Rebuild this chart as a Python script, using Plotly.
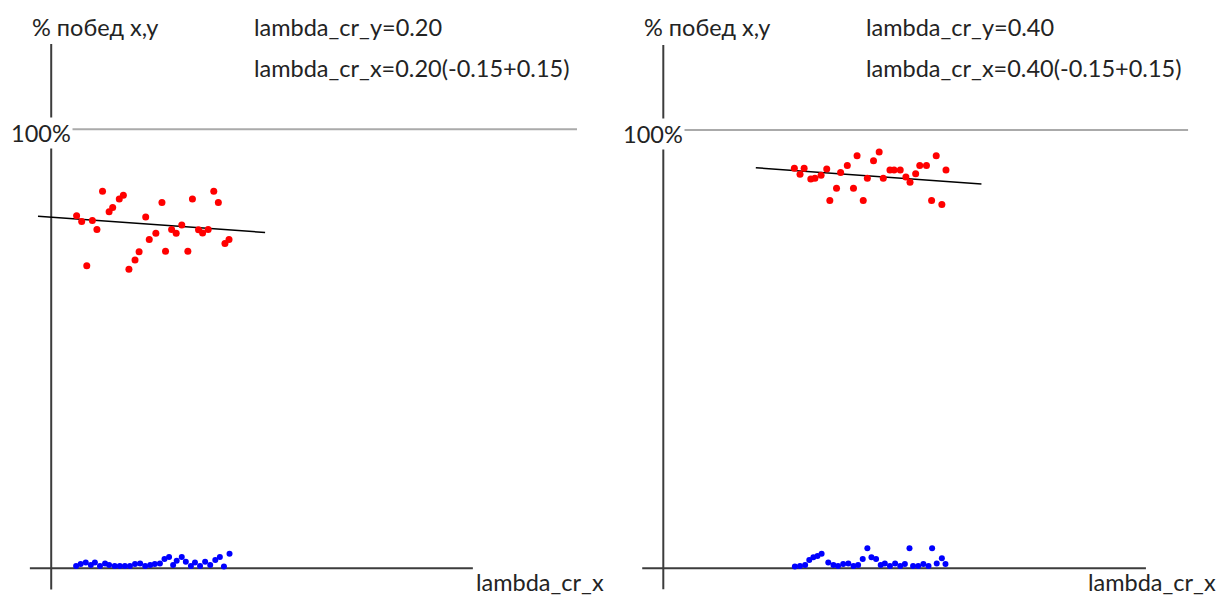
import plotly.graph_objects as go

# ---- left panel: lambda_cr_y = 0.20 ----
left_red_x = [0.050, 0.060, 0.070, 0.081, 0.090, 0.101, 0.114, 0.121, 0.134, 0.142,
              0.153, 0.165, 0.173, 0.186, 0.193, 0.206, 0.218, 0.225, 0.237, 0.246,
              0.257, 0.269, 0.278, 0.290, 0.298, 0.309, 0.320, 0.329, 0.342, 0.350]
left_red_y = [80.3, 79.0, 68.9, 79.2, 77.2, 85.9, 81.2, 82.2, 84.1, 85.0,
              68.1, 70.2, 72.1, 80.0, 74.9, 76.3, 83.3, 72.2, 77.2, 76.3,
              78.2, 72.2, 84.1, 77.1, 76.4, 77.2, 85.9, 83.3, 74.0, 74.9]
left_blue_x = [0.049, 0.058, 0.068, 0.078, 0.086, 0.096, 0.106, 0.114, 0.125, 0.135,
               0.145, 0.155, 0.165, 0.175, 0.185, 0.195, 0.204, 0.214, 0.223, 0.232,
               0.240, 0.247, 0.257, 0.265, 0.275, 0.283, 0.293, 0.303, 0.313, 0.323,
               0.332, 0.340, 0.351]
left_blue_y = [0.5, 1.0, 1.3, 0.75, 1.3, 0.5, 1.1, 0.75, 0.5, 0.5,
               0.5, 0.5, 1.0, 1.1, 0.5, 0.75, 1.0, 1.1, 2.1, 2.6,
               0.75, 1.7, 2.6, 1.5, 0.5, 1.3, 0.5, 1.5, 0.75, 1.9,
               2.6, 0.4, 3.3]
left_trend_x = [-0.026, 0.421]
left_trend_y = [80.2, 76.5]

# ---- right panel: lambda_cr_y = 0.40 ----
right_red_x = [0.255, 0.266, 0.274, 0.287, 0.295, 0.307, 0.318, 0.324, 0.337, 0.345,
               0.358, 0.370, 0.377, 0.389, 0.397, 0.409, 0.420, 0.428, 0.441, 0.449,
               0.461, 0.472, 0.480, 0.491, 0.499, 0.512, 0.522, 0.531, 0.542, 0.550]
right_red_y = [91.3, 89.9, 91.3, 88.8, 89.0, 89.7, 91.1, 83.9, 86.7, 90.3,
               91.9, 86.7, 94.1, 83.9, 89.0, 93.0, 95.0, 89.0, 90.9, 90.9,
               90.9, 89.3, 88.1, 90.0, 91.9, 91.9, 83.9, 94.1, 83.0, 90.9]
right_blue_x = [0.256, 0.266, 0.276, 0.284, 0.292, 0.300, 0.308, 0.321, 0.331, 0.340,
                0.350, 0.360, 0.370, 0.379, 0.388, 0.397, 0.405, 0.414, 0.423, 0.431,
                0.441, 0.451, 0.461, 0.470, 0.479, 0.486, 0.496, 0.506, 0.516, 0.523,
                0.532, 0.542, 0.549]
right_blue_y = [0.4, 0.5, 0.75, 1.9, 2.5, 2.8, 3.3, 1.3, 0.75, 0.5,
                1.0, 1.1, 0.5, 0.75, 2.1, 4.6, 2.5, 2.1, 0.75, 1.1,
                0.5, 1.1, 0.5, 1.0, 4.6, 0.5, 0.5, 1.0, 0.5, 4.6,
                1.1, 2.3, 1.0]
right_trend_x = [0.180, 0.619]
right_trend_y = [91.4, 87.7]

panel_titles = ["lambda_cr_y=0.20", "lambda_cr_y=0.40"]
panel_subtitles = ["lambda_cr_x=0.20(-0.15+0.15)", "lambda_cr_x=0.40(-0.15+0.15)"]
y_label = "% побед x,y"
x_label = "lambda_cr_x"
full_label = "100%"

RED = "rgb(255,0,0)"
BLUE = "rgb(0,0,255)"
AXIS = "rgb(60,60,60)"
GRID = "rgb(170,170,170)"
TEXT = "rgb(35,35,35)"
FONT = "Lato"
FONT_SIZE = 23.5

fig = go.Figure()

panels = [
    ("x", "y", left_red_x, left_red_y, left_blue_x, left_blue_y, left_trend_x, left_trend_y),
    ("x2", "y2", right_red_x, right_red_y, right_blue_x, right_blue_y, right_trend_x, right_trend_y),
]
for xa, ya, rx, ry, bx, by, tx, ty in panels:
    fig.add_trace(go.Scatter(x=tx, y=ty, mode="lines", xaxis=xa, yaxis=ya,
                             line=dict(color="black", width=1.5), showlegend=False))
    fig.add_trace(go.Scatter(x=rx, y=ry, mode="markers", xaxis=xa, yaxis=ya,
                             marker=dict(color=RED, size=7, symbol="circle"), showlegend=False))
    fig.add_trace(go.Scatter(x=bx, y=by, mode="markers", xaxis=xa, yaxis=ya,
                             marker=dict(color=BLUE, size=6, symbol="circle"), showlegend=False))

# axis frames: crossing axes at the origin, a 100% reference line
frame = [
    # (xref, yref, h_axis_from, h_axis_to, v_axis_from, v_axis_to, full_from, full_to)
    ("x", "y", -0.042, 0.830, -4.8, 119.4, 0.033, 1.035),
    ("x2", "y2", -0.041, 0.939, -4.8, 119.4, 0.036, 1.021),
]
shapes = []
for xr, yr, h0, h1, v0, v1, f0, f1 in frame:
    shapes.append(dict(type="line", xref=xr, yref=yr, x0=f0, x1=f1, y0=100, y1=100,
                       line=dict(color=GRID, width=2), layer="below"))
    shapes.append(dict(type="line", xref=xr, yref=yr, x0=h0, x1=h1, y0=0, y1=0,
                       line=dict(color=AXIS, width=2), layer="below"))
    shapes.append(dict(type="line", xref=xr, yref=yr, x0=0, x1=0, y0=v0, y1=v1,
                       line=dict(color=AXIS, width=2), layer="below"))

annotations = []
text_pos = [
    # (y-label x, title x, 100% x, x-label x) in paper units
    (30 / 1224, 252 / 1224, 9 / 1224, 474 / 1224),
    (642 / 1224, 864 / 1224, 621 / 1224, 1086 / 1224),
]
for i, (yl, tl, fl, xl) in enumerate(text_pos):
    common = dict(xref="paper", yref="paper", showarrow=False, xanchor="left",
                  yanchor="middle", font=dict(family=FONT, size=FONT_SIZE, color=TEXT))
    annotations.append(dict(text=y_label, x=yl, y=1 - 27 / 595, **common))
    annotations.append(dict(text=panel_titles[i], x=tl, y=1 - 27 / 595, **common))
    annotations.append(dict(text=panel_subtitles[i], x=tl, y=1 - 68 / 595, **common))
    annotations.append(dict(text=full_label, x=fl, y=1 - (133 + i) / 595,
                            bgcolor="white", **common))
    annotations.append(dict(text=x_label, x=xl, y=1 - 582 / 595, **common))

hidden = dict(visible=False, showgrid=False, zeroline=False, fixedrange=True)
fig.update_layout(
    width=1224, height=595,
    margin=dict(l=0, r=0, t=0, b=0),
    paper_bgcolor="white", plot_bgcolor="white",
    xaxis=dict(domain=[0, 0.5], range=[-0.1008, 1.1039], **hidden),
    yaxis=dict(domain=[0, 1], range=[-6.08, 129.45], **hidden),
    xaxis2=dict(domain=[0.5, 1], range=[-0.0998, 1.0909], anchor="y2", **hidden),
    yaxis2=dict(domain=[0, 1], range=[-6.09, 129.66], anchor="x2", **hidden),
    shapes=shapes,
    annotations=annotations,
)

fig.write_html("out.html", config={"displayModeBar": False})
